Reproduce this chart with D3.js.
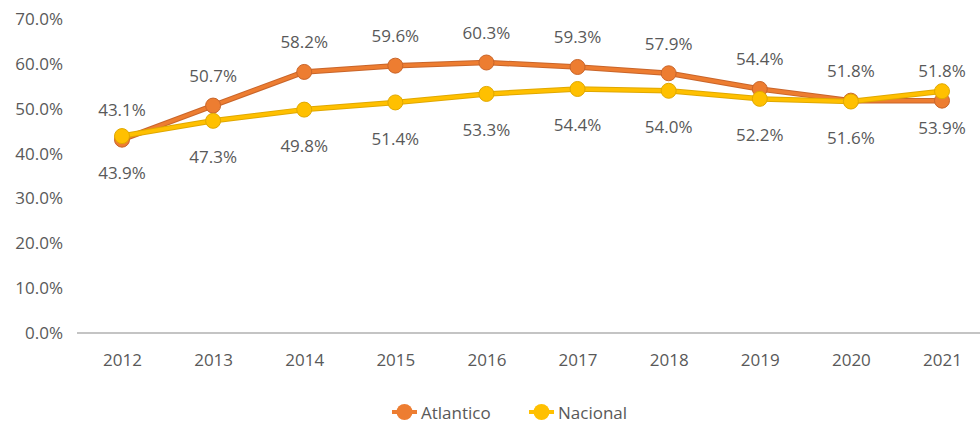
<!DOCTYPE html>
<html>
<head>
<meta charset="utf-8">
<script src="https://cdn.jsdelivr.net/npm/d3@7"></script>
<style>
  body { margin: 0; background: #fff; }
  text { font-family: "Open Sans", sans-serif; fill: #595959; }
</style>
</head>
<body>
<div id="chart"></div>
<script>
const years = ['2012', '2013', '2014', '2015', '2016', '2017', '2018', '2019', '2020', '2021']
const atlantico = [43.1, 50.7, 58.2, 59.6, 60.3, 59.3, 57.9, 54.4, 51.8, 51.8]
const nacional = [43.9, 47.3, 49.8, 51.4, 53.3, 54.4, 54.0, 52.2, 51.6, 53.9]
const yTicks = [0, 10, 20, 30, 40, 50, 60, 70]

const width = 980
const height = 426

const series = [
  { name: 'Atlantico', values: atlantico, color: '#ED7D31', edge: '#c9652a', labelDy: -30 },
  { name: 'Nacional', values: nacional, color: '#FFC000', edge: '#e0a800', labelDy: 36 }
]

const svg = d3.select('#chart').append('svg')
  .attr('width', width)
  .attr('height', height)

const xScale = d3.scalePoint()
  .domain(years)
  .range([122, 942])

const yScale = d3.scaleLinear()
  .domain([0, 70])
  .range([333, 19])

// y axis labels, no line
const yAxis = d3.axisLeft(yScale)
  .tickValues(yTicks)
  .tickFormat(d => d.toFixed(1) + '%')
  .tickSize(0)
  .tickPadding(0)

const gy = svg.append('g')
  .attr('transform', 'translate(63, 0)')
  .call(yAxis)
gy.select('.domain').remove()
gy.selectAll('text').style('font-size', '17px').attr('fill', '#595959')

// baseline
svg.append('line')
  .attr('x1', 77).attr('x2', width)
  .attr('y1', yScale(0)).attr('y2', yScale(0))
  .attr('stroke', '#c4c4c4')
  .attr('stroke-width', 2)

const xAxis = d3.axisBottom(xScale).tickSize(0).tickPadding(21)
const gx = svg.append('g')
  .attr('transform', 'translate(0, ' + yScale(0) + ')')
  .call(xAxis)
gx.select('.domain').remove()
gx.selectAll('text').style('font-size', '17px').attr('fill', '#595959')

const line = d3.line()
  .x((d, i) => xScale(years[i]))
  .y(d => yScale(d))

series.forEach(s => {
  svg.append('path')
    .datum(s.values)
    .attr('d', line)
    .attr('fill', 'none')
    .attr('stroke', s.edge)
    .attr('stroke-width', 5.5)
    .attr('stroke-linejoin', 'round')
  svg.append('path')
    .datum(s.values)
    .attr('d', line)
    .attr('fill', 'none')
    .attr('stroke', s.color)
    .attr('stroke-width', 3.5)
    .attr('stroke-linejoin', 'round')

  svg.append('g').selectAll('circle')
    .data(s.values)
    .enter()
    .append('circle')
    .attr('cx', (d, i) => xScale(years[i]))
    .attr('cy', d => yScale(d))
    .attr('r', 7.5)
    .attr('fill', s.color)
    .attr('stroke', s.edge)
    .attr('stroke-width', 1)
})

series.forEach(s => {
  svg.append('g').selectAll('text')
    .data(s.values)
    .enter()
    .append('text')
    .attr('x', (d, i) => xScale(years[i]))
    .attr('y', d => yScale(d) + s.labelDy)
    .attr('text-anchor', 'middle')
    .attr('dominant-baseline', 'central')
    .style('font-size', '17px')
    .text(d => d.toFixed(1) + '%')
})

// legend
const legend = svg.append('g').attr('transform', 'translate(0, 412)')
const legendX = [392, 529]
series.forEach((s, i) => {
  const g = legend.append('g').attr('transform', 'translate(' + legendX[i] + ', 0)')
  g.append('line')
    .attr('x1', 0).attr('x2', 25)
    .attr('stroke', s.color)
    .attr('stroke-width', 4)
  g.append('circle')
    .attr('cx', 12.5)
    .attr('r', 8)
    .attr('fill', s.color)
  g.append('text')
    .attr('x', 29)
    .attr('dominant-baseline', 'central')
    .style('font-size', '17px')
    .text(s.name)
})
</script>
</body>
</html>
